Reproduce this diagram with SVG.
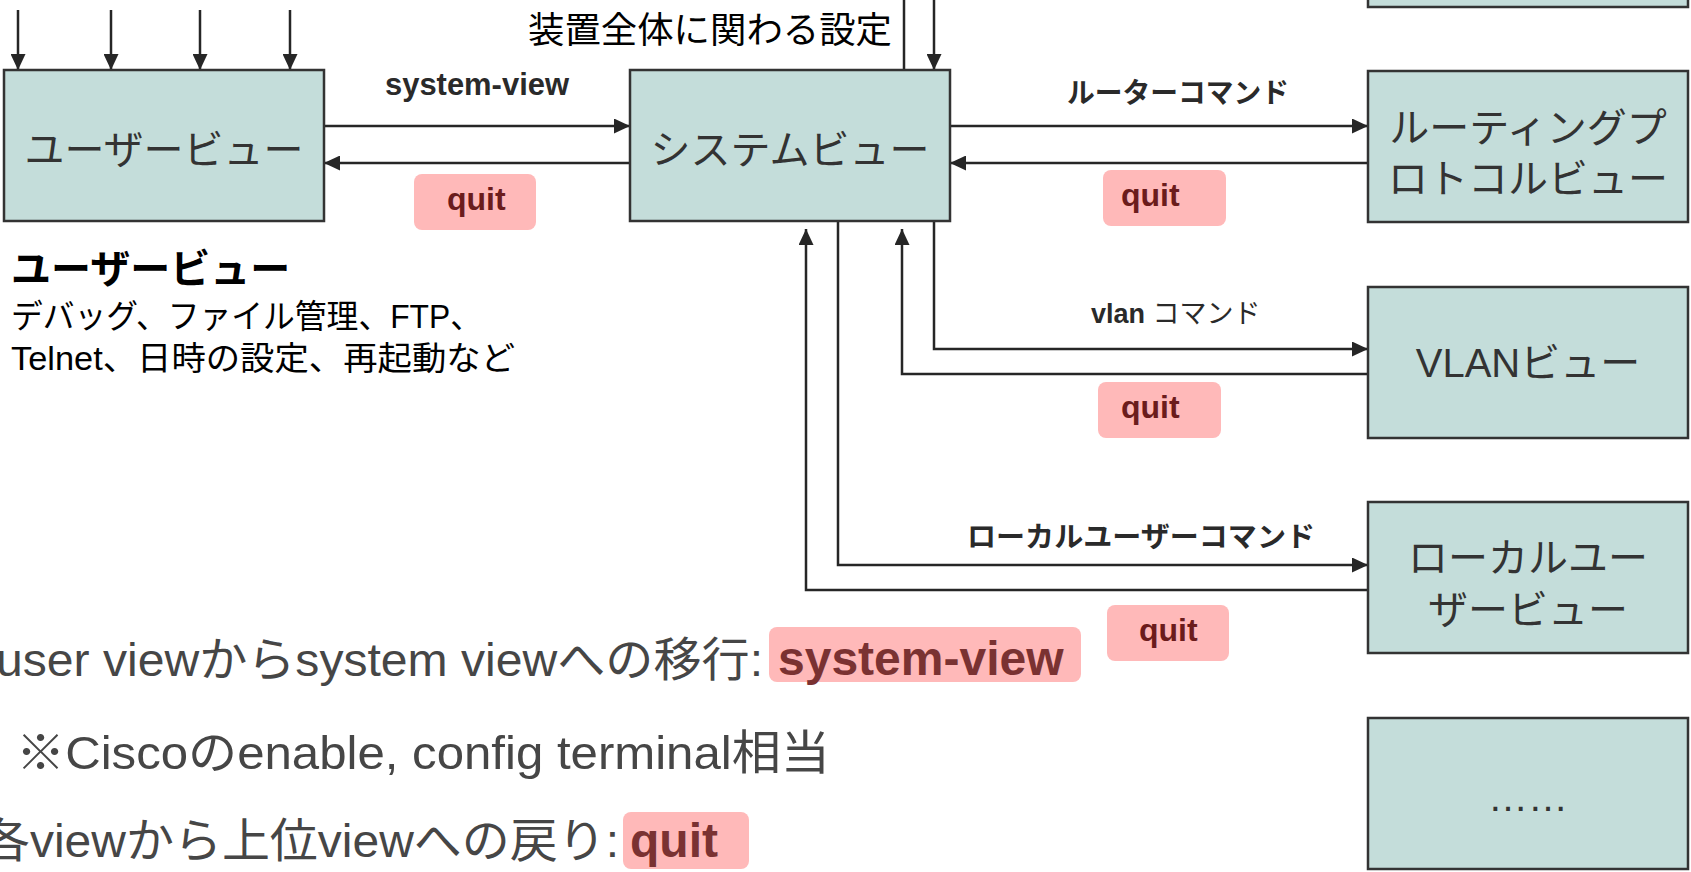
<svg xmlns="http://www.w3.org/2000/svg" width="1691" height="872" viewBox="0 0 1691 872">
<style>
.box{fill:#C4DDDA;stroke:#333;stroke-width:2.5}
.bt{font-family:"Liberation Sans","Noto Sans CJK JP",sans-serif;font-size:40px;fill:#333;text-anchor:middle}
.ln{fill:none;stroke:#262626;stroke-width:2.5}
.lbl{font-family:"Liberation Sans","Noto Sans CJK JP",sans-serif;font-weight:bold;fill:#2a2a2a}
.qb{fill:#FFB9B9}
.qt{font-family:"Liberation Sans","Noto Sans CJK JP",sans-serif;font-weight:bold;font-size:32px;fill:#6B1C1C}
.desc{font-family:"Liberation Sans","Noto Sans CJK JP",sans-serif;fill:#000}
.big{font-family:"Liberation Sans","Noto Sans CJK JP",sans-serif;font-size:47px;fill:#464646}
.bigb{font-family:"Liberation Sans","Noto Sans CJK JP",sans-serif;font-size:48px;font-weight:bold;fill:#7A3232}
</style>
<defs>
<marker id="ah" markerUnits="userSpaceOnUse" markerWidth="16" markerHeight="15" refX="16" refY="7.5" orient="auto">
<path d="M0,0 L16,7.5 L0,15 z" fill="#262626"/>
</marker>
</defs>
<rect width="1691" height="872" fill="#fff"/>

<g id="connectors">
<line class="ln" x1="18" y1="10" x2="18" y2="70" marker-end="url(#ah)"/>
<line class="ln" x1="111" y1="10" x2="111" y2="70" marker-end="url(#ah)"/>
<line class="ln" x1="200" y1="10" x2="200" y2="70" marker-end="url(#ah)"/>
<line class="ln" x1="290" y1="10" x2="290" y2="70" marker-end="url(#ah)"/>
<line class="ln" x1="904" y1="0" x2="904" y2="70"/>
<line class="ln" x1="934" y1="0" x2="934" y2="70" marker-end="url(#ah)"/>
<path class="ln" d="M324,126 H630" marker-end="url(#ah)"/>
<path class="ln" d="M630,163 H324" marker-end="url(#ah)"/>
<path class="ln" d="M950,126 H1368" marker-end="url(#ah)"/>
<path class="ln" d="M1368,163 H950" marker-end="url(#ah)"/>
<path class="ln" d="M934,221 V349 H1368" marker-end="url(#ah)"/>
<path class="ln" d="M1368,374 H902 V229" marker-end="url(#ah)"/>
<path class="ln" d="M838,221 V565 H1368" marker-end="url(#ah)"/>
<path class="ln" d="M1368,590 H806 V229" marker-end="url(#ah)"/>
</g>

<g id="label-device">
<text class="desc" x="528" y="43" font-size="36" textLength="364" lengthAdjust="spacingAndGlyphs">装置全体に関わる設定</text>
</g>

<g id="node-user">
<rect class="box" x="4" y="70" width="320" height="151"/>
<text class="bt" x="164" y="164">ユーザービュー</text>
</g>
<g id="node-system">
<rect class="box" x="630" y="70" width="320" height="151"/>
<text class="bt" x="790" y="164">システムビュー</text>
</g>
<g id="node-top">
<rect class="box" x="1368" y="-10" width="320" height="17"/>
</g>
<g id="node-routing">
<rect class="box" x="1368" y="71" width="320" height="151"/>
<text class="bt" x="1528" y="142">ルーティングプ</text>
<text class="bt" x="1528" y="193">ロトコルビュー</text>
</g>
<g id="node-vlan">
<rect class="box" x="1368" y="287" width="320" height="151"/>
<text class="bt" x="1528" y="377">VLANビュー</text>
</g>
<g id="node-local">
<rect class="box" x="1368" y="502" width="320" height="151"/>
<text class="bt" x="1528" y="572">ローカルユー</text>
<text class="bt" x="1528" y="624">ザービュー</text>
</g>
<g id="node-more">
<rect class="box" x="1368" y="718" width="320" height="151"/>
<text class="bt" x="1528" y="811">……</text>
</g>

<g id="edge-labels">
<text class="lbl" x="385" y="95" font-size="31" textLength="184" lengthAdjust="spacingAndGlyphs">system-view</text>
<text class="lbl" x="1067" y="103" font-size="28" textLength="222" lengthAdjust="spacingAndGlyphs">ルーターコマンド</text>
<text class="lbl" x="1091" y="323" font-size="27">vlan <tspan font-weight="normal">コマンド</tspan></text>
<text class="lbl" x="967" y="547" font-size="28" textLength="348" lengthAdjust="spacingAndGlyphs">ローカルユーザーコマンド</text>
<rect class="qb" x="414" y="174" width="122" height="56" rx="8"/>
<text class="qt" x="447" y="210">quit</text>
<rect class="qb" x="1103" y="170" width="123" height="56" rx="8"/>
<text class="qt" x="1121" y="206">quit</text>
<rect class="qb" x="1098" y="382" width="123" height="56" rx="8"/>
<text class="qt" x="1121" y="418">quit</text>
<rect class="qb" x="1107" y="605" width="122" height="56" rx="8"/>
<text class="qt" x="1139" y="641">quit</text>
</g>

<g id="user-desc">
<text class="desc" x="11" y="283" font-size="40" font-weight="bold">ユーザービュー</text>
<text class="desc" x="11" y="328" font-size="33" textLength="471" lengthAdjust="spacingAndGlyphs">デバッグ、ファイル管理、FTP、</text>
<text class="desc" x="11" y="370" font-size="33" textLength="504" lengthAdjust="spacingAndGlyphs">Telnet、日時の設定、再起動など</text>
</g>

<g id="notes">
<text class="big" x="-4" y="676" textLength="767" lengthAdjust="spacingAndGlyphs">user viewからsystem viewへの移行:</text>
<rect class="qb" x="769" y="627" width="312" height="55" rx="8"/>
<text class="bigb" x="778" y="675">system-view</text>
<text class="big" x="16" y="769" textLength="814" lengthAdjust="spacingAndGlyphs">※Ciscoのenable, config terminal相当</text>
<text class="big" x="-18" y="857" textLength="637" lengthAdjust="spacingAndGlyphs">各viewから上位viewへの戻り:</text>
<rect class="qb" x="623" y="812" width="126" height="57" rx="8"/>
<text class="bigb" x="630" y="857">quit</text>
</g>
</svg>
